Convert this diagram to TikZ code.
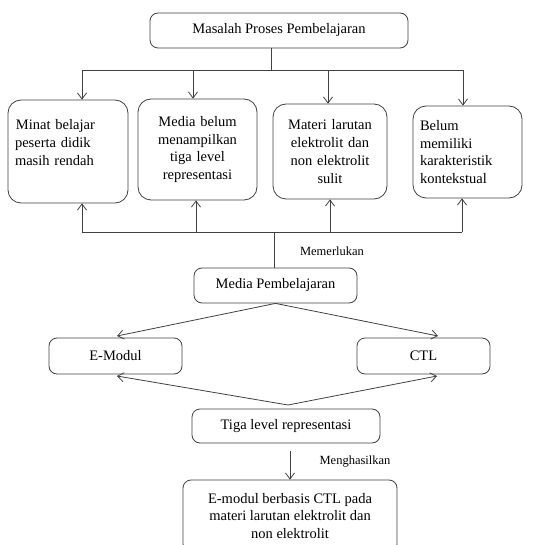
\documentclass[tikz,border=0pt]{standalone}
\usepackage{fontspec}
\setmainfont{Liberation Serif}
\usetikzlibrary{arrows.meta}
\begin{document}
\begin{tikzpicture}[x=1pt,y=-1pt,
  box/.style={draw=black!75, line width=0.8pt, rounded corners=8pt, inner sep=0pt,
    font=\fontsize{14.5}{17.8}\selectfont},
  bigbox/.style={box, rounded corners=13pt},
  lab/.style={font=\fontsize{12.5}{15}\selectfont, inner sep=0pt},
  conn/.style={draw=black!75, line width=0.8pt},
  arr/.style={conn, -{Straight Barb[length=6pt,width=9pt]}}]
\useasboundingbox (0,0) rectangle (543,545);
% top
\node[box, minimum width=258, minimum height=35] (top) at (279,30.5) {Masalah Proses Pembelajaran};
% four problem boxes
\node[bigbox, minimum width=120, minimum height=103, text width=106, align=left] (b1) at (68,151.5)
  {\hspace*{1pt}Minat belajar\\peserta didik\\masih rendah\\\mbox{}};
\node[bigbox, minimum width=119, minimum height=101, text width=110, align=center] (b2) at (197.5,149.5)
  {Media belum\\menampilkan\\tiga level\\representasi};
\node[bigbox, minimum width=114, minimum height=95, text width=110, align=center] (b3) at (330,151.5)
  {Materi larutan\\elektrolit dan\\non elektrolit\\sulit};
\node[bigbox, minimum width=109, minimum height=92, text width=95, align=left] (b4) at (467.5,152)
  {Belum\\memiliki\\karakteristik\\kontekstual};
% upper bus
\coordinate (tb) at (271,70);
\coordinate (t1) at (82,70);
\coordinate (t2) at (193,70);
\coordinate (t3) at (328,70);
\coordinate (t4) at (463,70);
\draw[conn] (top.south -| tb) -- (tb);
\draw[conn] (t1) -- (t4);
\draw[arr] (t1) -- (t1 |- b1.north);
\draw[arr] (t2) -- (t2 |- b2.north);
\draw[arr] (t3) -- (t3 |- b3.north);
\draw[arr] (t4) -- (t4 |- b4.north);
% media
\node[box, minimum width=163, minimum height=35] (media) at (275.5,285.5) {Media Pembelajaran};
% lower bus
\coordinate (ub) at (274,232);
\coordinate (u1) at (82,232);
\coordinate (u2) at (196,232);
\coordinate (u3) at (330,232);
\coordinate (u4) at (462,232);
\draw[conn] (media.north -| ub) -- (ub);
\draw[conn] (u1) -- (u4);
\draw[arr] (u1) -- (u1 |- b1.south);
\draw[arr] (u2) -- (u2 |- b2.south);
\draw[arr] (u3) -- (u3 |- b3.south);
\draw[arr] (u4) -- (u4 |- b4.south);
\node[lab] (mem) at (332,251) {Memerlukan};
% E-Modul and CTL
\node[box, minimum width=133, minimum height=36] (emod) at (115.5,356) {E-Modul};
\node[box, minimum width=133, minimum height=36] (ctl) at (423.5,356) {CTL};
\coordinate (emt) at (117,336);
\coordinate (ctt) at (438,336);
\draw[arr] (media.south) -- (emt);
\draw[arr] (media.south) -- (ctt);
% Tiga level
\node[box, minimum width=188, minimum height=34] (tiga) at (286,426) {Tiga level representasi};
\coordinate (apex) at (288,405);
\coordinate (emb) at (117,376);
\coordinate (ctb) at (437,376);
\draw[arr] (apex) -- (emb);
\draw[arr] (apex) -- (ctb);
% final
\coordinate (fa) at (290,451);
\node[box, minimum width=214, minimum height=72, align=center] (fin) at (290,516)
  {E-modul berbasis CTL pada\\materi larutan elektrolit dan\\non elektrolit};
\draw[arr] (fa) -- (fa |- fin.north);
\node[lab] (men) at (355,462) {Menghasilkan};
\end{tikzpicture}
\end{document}
